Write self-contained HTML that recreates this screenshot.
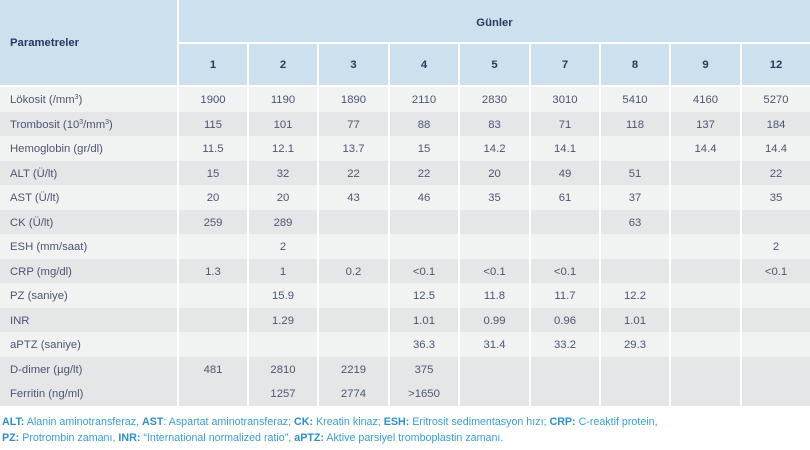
<!DOCTYPE html>
<html><head><meta charset="utf-8"><style>
body{margin:0;width:810px;height:450px;background:#fff;font-family:"Liberation Sans",Arial,sans-serif;overflow:hidden}
table{border-collapse:collapse;table-layout:fixed;width:810px;position:absolute;left:0;top:0}
td,th{padding:0;text-align:center;font-size:11.3px;color:#4a5672;border-right:2px solid #fff}
td:last-child,th:last-child{border-right:none}
th{background:#cde0ee;color:#253a5e;font-weight:bold}
tr.h1 th{height:42px}
tr.h1 th.g{border-bottom:2px solid #fff;padding-top:3px;height:39px}
tr.h2 th{height:41px;border-bottom:2px solid #fff}
th.p{text-align:left;padding-left:10px;border-bottom:2px solid #fff}
tbody td{height:22.5px;padding-top:2px}
tbody td:first-child{text-align:left;padding-left:10px}
tr.l td{background:#f1f2f2}
tr.d td{background:#e5e6e7}
sup{font-size:7px;vertical-align:4px;line-height:0}
.f{position:absolute;left:2px;font-size:10.7px;color:#3a9fd0;white-space:nowrap}
.f b{color:#2e8fc4}
</style></head><body>
<table>
<colgroup><col style="width:178px"><col style="width:70px"><col style="width:70px"><col style="width:71px"><col style="width:70px"><col style="width:71px"><col style="width:70px"><col style="width:70px"><col style="width:71px"><col style="width:69px"></colgroup>
<thead>
<tr class="h1"><th class="p" rowspan="2">Parametreler</th><th class="g" colspan="9">Günler</th></tr>
<tr class="h2"><th>1</th><th>2</th><th>3</th><th>4</th><th>5</th><th>7</th><th>8</th><th>9</th><th>12</th></tr>
</thead>
<tbody>
<tr class="l"><td>Lökosit (/mm<sup>3</sup>)</td><td>1900</td><td>1190</td><td>1890</td><td>2110</td><td>2830</td><td>3010</td><td>5410</td><td>4160</td><td>5270</td></tr>
<tr class="d"><td>Trombosit (10<sup>3</sup>/mm<sup>3</sup>)</td><td>115</td><td>101</td><td>77</td><td>88</td><td>83</td><td>71</td><td>118</td><td>137</td><td>184</td></tr>
<tr class="l"><td>Hemoglobin (gr/dl)</td><td>11.5</td><td>12.1</td><td>13.7</td><td>15</td><td>14.2</td><td>14.1</td><td></td><td>14.4</td><td>14.4</td></tr>
<tr class="d"><td>ALT (Ü/lt)</td><td>15</td><td>32</td><td>22</td><td>22</td><td>20</td><td>49</td><td>51</td><td></td><td>22</td></tr>
<tr class="l"><td>AST (Ü/lt)</td><td>20</td><td>20</td><td>43</td><td>46</td><td>35</td><td>61</td><td>37</td><td></td><td>35</td></tr>
<tr class="d"><td>CK (Ü/lt)</td><td>259</td><td>289</td><td></td><td></td><td></td><td></td><td>63</td><td></td><td></td></tr>
<tr class="l"><td>ESH (mm/saat)</td><td></td><td>2</td><td></td><td></td><td></td><td></td><td></td><td></td><td>2</td></tr>
<tr class="d"><td>CRP (mg/dl)</td><td>1.3</td><td>1</td><td>0.2</td><td>&lt;0.1</td><td>&lt;0.1</td><td>&lt;0.1</td><td></td><td></td><td>&lt;0.1</td></tr>
<tr class="l"><td>PZ (saniye)</td><td></td><td>15.9</td><td></td><td>12.5</td><td>11.8</td><td>11.7</td><td>12.2</td><td></td><td></td></tr>
<tr class="d"><td>INR</td><td></td><td>1.29</td><td></td><td>1.01</td><td>0.99</td><td>0.96</td><td>1.01</td><td></td><td></td></tr>
<tr class="l"><td>aPTZ (saniye)</td><td></td><td></td><td></td><td>36.3</td><td>31.4</td><td>33.2</td><td>29.3</td><td></td><td></td></tr>
<tr class="d"><td>D-dimer (µg/lt)</td><td>481</td><td>2810</td><td>2219</td><td>375</td><td></td><td></td><td></td><td></td><td></td></tr>
<tr class="d"><td>Ferritin (ng/ml)</td><td></td><td>1257</td><td>2774</td><td>&gt;1650</td><td></td><td></td><td></td><td></td><td></td></tr>
</tbody>
</table>
<div class="f" style="top:416px"><b>ALT:</b> Alanin aminotransferaz, <b>AST</b>: Aspartat aminotransferaz; <b>CK:</b> Kreatin kinaz; <b>ESH:</b> Eritrosit sedimentasyon hızı; <b>CRP:</b> C-reaktif protein,</div>
<div class="f" style="top:432px"><b>PZ:</b> Protrombin zamanı, <b>INR:</b> “International normalized ratio”, <b>aPTZ:</b> Aktive parsiyel tromboplastin zamanı.</div>
</body></html>
